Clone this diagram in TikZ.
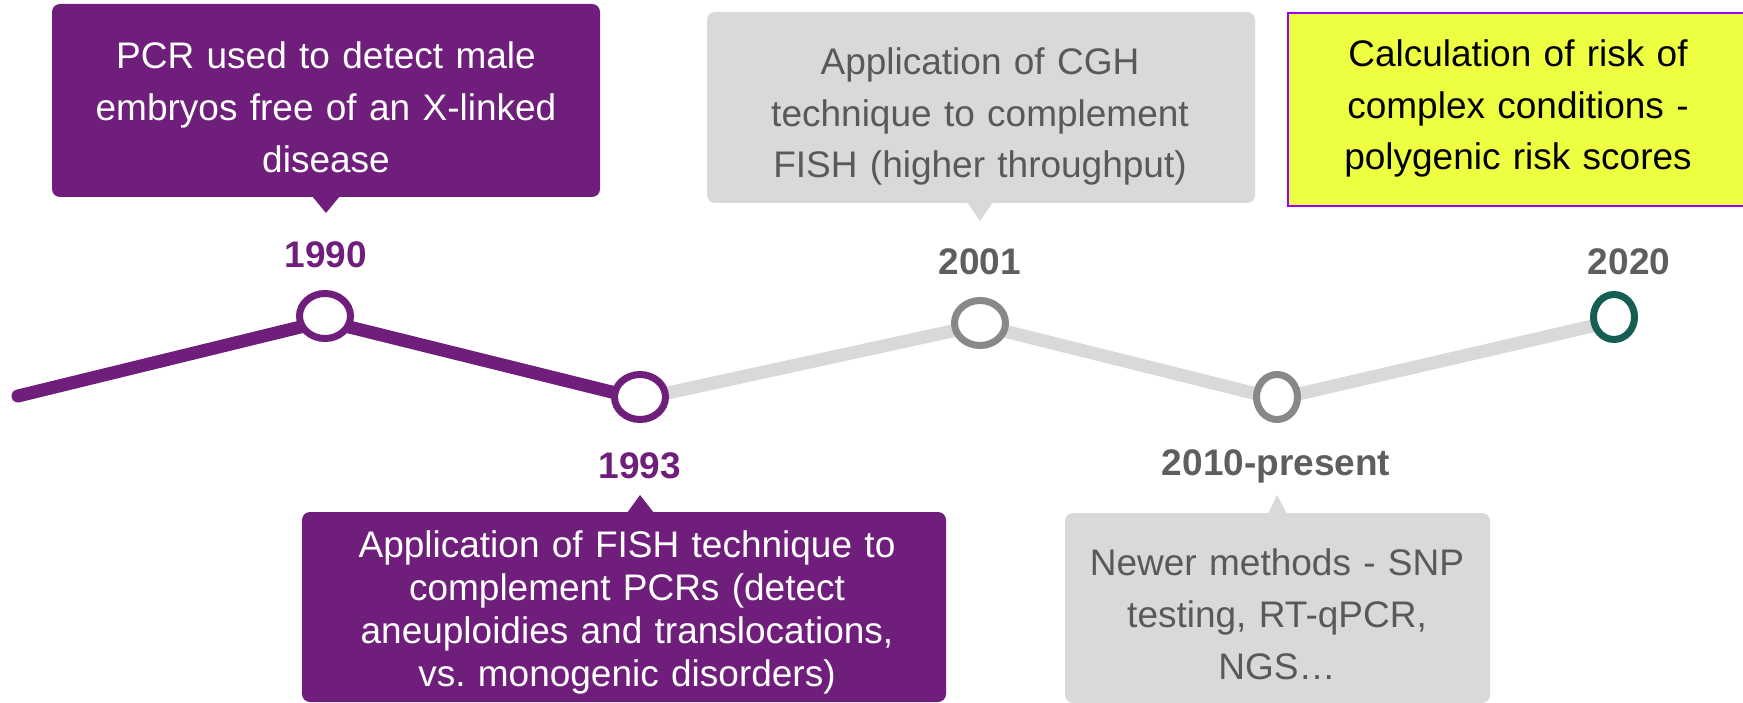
\documentclass[tikz,border=0pt]{standalone}
\usepackage{fontspec}
\setmainfont{Liberation Sans}
\usetikzlibrary{shapes.geometric}
\definecolor{pur}{RGB}{111,30,123}
\definecolor{lgray}{RGB}{217,217,217}
\definecolor{rgray}{RGB}{136,136,136}
\definecolor{tgray}{RGB}{89,89,89}
\definecolor{ygray}{RGB}{94,94,94}
\definecolor{teal2}{RGB}{22,94,83}
\definecolor{yel}{RGB}{238,255,65}
\definecolor{vio}{RGB}{153,0,255}
\tikzset{
  cbox/.style={rectangle, rounded corners=8pt, inner sep=0pt, fill=#1, draw=none},
  txt/.style={anchor=base, align=center, text width=680pt, inner sep=0pt, font=\fontsize{37}{52}\selectfont},
  yr/.style={anchor=base, inner sep=0pt, font=\fontsize{37}{44}\selectfont\bfseries},
  ring/.style={ellipse, draw=#1, line width=7pt, fill=white, inner sep=0pt},
  tl/.style={line width=13pt, line cap=round, line join=round}
}
\begin{document}
\begin{tikzpicture}[x=1pt,y=-1pt]
\useasboundingbox (0,0) rectangle (1743,703);
% boxes
\node[cbox=pur, minimum width=548pt, minimum height=193pt] (b1) at (326,100.5) {};
\fill[pur] (312,196) -- (340,196) -- (326,213) -- cycle;
\node[cbox=lgray, minimum width=548pt, minimum height=191pt] (b2) at (981,107.5) {};
\fill[lgray] (967,202) -- (993,202) -- (980,221) -- cycle;
\node[rectangle, fill=yel, draw=vio, line width=2pt, inner sep=0pt, minimum width=460pt, minimum height=193pt] (b3) at (1518,109.5) {};
\node[cbox=pur, minimum width=644pt, minimum height=190pt] (b4) at (624,607) {};
\fill[pur] (627,513) -- (654,513) -- (640,495) -- cycle;
\node[cbox=lgray, minimum width=425pt, minimum height=190pt] (b5) at (1277.5,608) {};
\fill[lgray] (1268,514) -- (1287,514) -- (1277,495) -- cycle;
% timeline
\coordinate (p0) at (18,396);
\coordinate (p1) at (325,321);
\coordinate (p2) at (640,399);
\coordinate (p3) at (980,325);
\coordinate (p4) at (1277,399);
\coordinate (p5) at (1614,321);
\draw[tl, lgray] (p2) -- (p3) -- (p4) -- (p5);
\draw[tl, pur] (p0) -- (p1) -- (p2);
\node[ring=pur, minimum width=51pt, minimum height=45pt] (c1) at (325,316) {};
\node[ring=pur, minimum width=51pt, minimum height=45pt] (c2) at (640,397) {};
\node[ring=rgray, minimum width=51pt, minimum height=45pt] (c3) at (980,323) {};
\node[ring=rgray, minimum width=41pt, minimum height=45pt] (c4) at (1277,397) {};
\node[ring=teal2, minimum width=41pt, minimum height=45pt] (c5) at (1614,317) {};
% years
\node[yr, text=pur] (y1) at (326,268) {1990};
\node[yr, text=pur] (y2) at (640,478) {1993};
\node[yr, text=ygray] (y3) at (980,275) {2001};
\node[yr, text=ygray] (y4) at (1276,475) {2010-present};
\node[yr, text=ygray] (y5) at (1629,275) {2020};
% texts
\node[txt, text=white] (t1) at (326,69) {PCR used to detect male\\embryos free of an X-linked\\disease};
\node[txt, text=tgray, font=\fontsize{37}{51.5}\selectfont] (t2) at (980,75) {Application of CGH\\technique to complement\\FISH (higher throughput)};
\node[txt, text=black, font=\fontsize{37}{51.5}\selectfont] (t3) at (1518,67) {Calculation of risk of\\complex conditions -\\polygenic risk scores};
\node[txt, text=white, font=\fontsize{37}{43}\selectfont] (t4) at (627,557) {Application of FISH technique to\\complement PCRs (detect\\aneuploidies and translocations,\\vs.\ monogenic disorders)};
\node[txt, text=tgray] (t5) at (1277,575) {Newer methods - SNP\\testing, RT-qPCR,\\NGS…};
\end{tikzpicture}
\end{document}
